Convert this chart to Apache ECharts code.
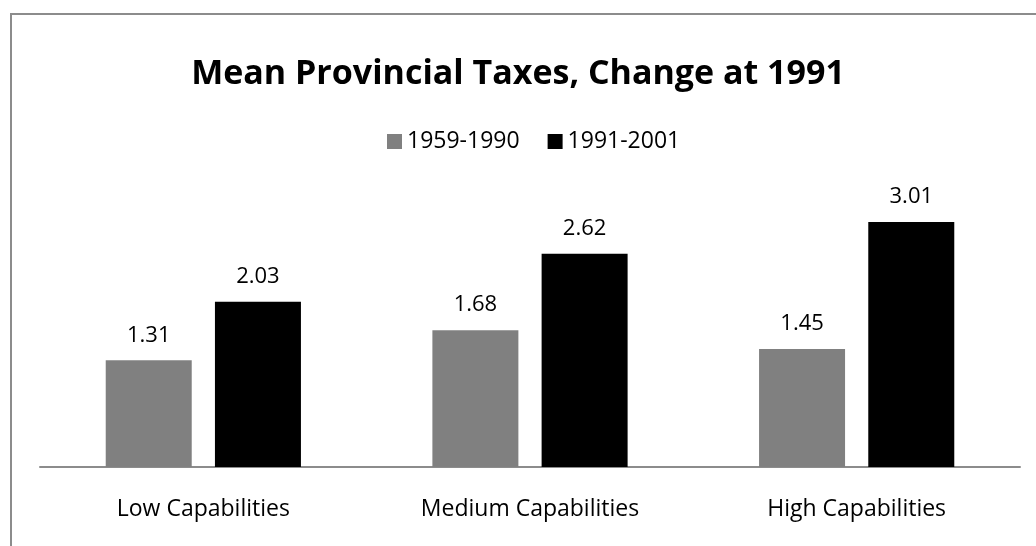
<!DOCTYPE html>
<html>
<head>
<meta charset="utf-8">
<script src="https://cdn.jsdelivr.net/npm/echarts@6/dist/echarts.min.js"></script>
<style>
  html, body { margin: 0; padding: 0; background: #fff; }
  #chart { width: 1036px; height: 546px; }
  #frame {
    position: absolute; left: 10px; top: 13px; width: 1100px; height: 600px;
    border-left: 2px solid #8c8c8c; border-top: 2px solid #8c8c8c;
    pointer-events: none;
  }
</style>
</head>
<body>
<div id="chart"></div>
<div id="frame"></div>
<script>
const categories = ['Low Capabilities', 'Medium Capabilities', 'High Capabilities']
const before1991 = [1.31, 1.68, 1.45]
const after1991 = [2.03, 2.62, 3.01]
const fontFamily = 'Open Sans, Noto Sans, sans-serif'

const chart = echarts.init(document.getElementById('chart'))
const option = {
  animation: false,
  title: {
    text: 'Mean Provincial Taxes, Change at 1991',
    left: 'center',
    top: 52,
    textStyle: { fontFamily, fontSize: 34, fontWeight: 'bold', color: '#000' },
  },
  legend: {
    data: ['1959-1990', '1991-2001'],
    top: 125,
    left: 382,
    icon: 'rect',
    itemWidth: 15,
    itemHeight: 15,
    itemGap: 28,
    textStyle: { fontFamily, fontSize: 23, color: '#000' },
  },
  grid: {
    top: 182,
    left: 40,
    right: 16,
    bottom: 79,
  },
  xAxis: {
    type: 'category',
    data: categories,
    axisLine: { lineStyle: { color: '#8c8c8c', width: 2 } },
    axisTick: { show: false },
    axisLabel: { fontFamily, fontSize: 23, color: '#000', margin: 31 },
  },
  yAxis: {
    type: 'value',
    min: 0,
    max: 3.5,
    show: false,
    splitLine: { show: false },
  },
  series: [
    {
      name: '1959-1990',
      type: 'bar',
      data: before1991,
      barWidth: 86,
      barGap: '27%',
      itemStyle: { color: '#808080' },
      label: { show: true, position: 'top', distance: 14, fontFamily, fontSize: 22, color: '#000', formatter: (p) => p.value.toFixed(2) },
    },
    {
      name: '1991-2001',
      type: 'bar',
      data: after1991,
      barWidth: 86,
      itemStyle: { color: '#000' },
      label: { show: true, position: 'top', distance: 14, fontFamily, fontSize: 22, color: '#000', formatter: (p) => p.value.toFixed(2) },
    },
  ],
}
chart.setOption(option)
</script>
</body>
</html>
